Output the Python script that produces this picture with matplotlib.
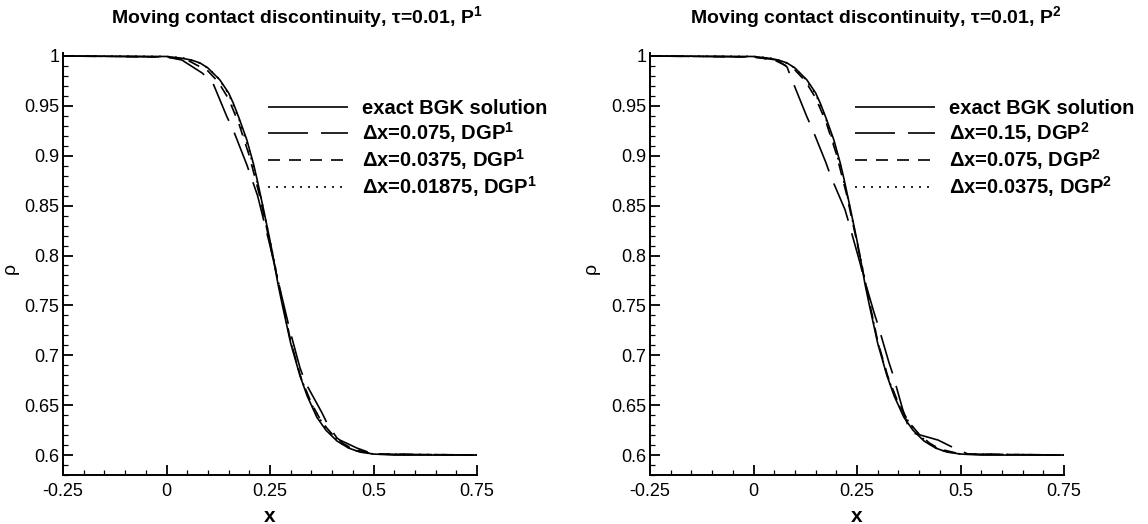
import matplotlib
matplotlib.use("Agg")
import matplotlib.pyplot as plt
from matplotlib.ticker import MultipleLocator, FuncFormatter

plt.rcParams['font.family'] = ['Liberation Sans', 'DejaVu Sans']
plt.rcParams['mathtext.fontset'] = 'custom'
plt.rcParams['mathtext.rm'] = 'Liberation Sans'
plt.rcParams['mathtext.bf'] = 'Liberation Sans:bold'

# --- data ---
# exact BGK solution (same in both panels)
exact_x = [-0.25, 0.0, 0.033, 0.06, 0.081, 0.1, 0.129, 0.15, 0.161, 0.175, 0.194,
           0.21, 0.219, 0.235, 0.25, 0.257, 0.269, 0.28, 0.3, 0.322, 0.34, 0.363,
           0.385, 0.412, 0.44, 0.467, 0.5, 0.55, 0.75]
exact_y = [1.0, 0.9995, 0.998, 0.996, 0.993, 0.988, 0.976, 0.963, 0.953, 0.938, 0.916,
           0.892, 0.876, 0.845, 0.815, 0.800, 0.772, 0.750, 0.712, 0.680, 0.659, 0.638,
           0.625, 0.614, 0.607, 0.603, 0.601, 0.600, 0.600]

# left panel, P1
p1_coarse_x = [-0.25, 0.0, 0.037, 0.086, 0.112, 0.146, 0.161, 0.194, 0.22, 0.25, 0.275,
               0.298, 0.322, 0.335, 0.376, 0.39, 0.412, 0.419, 0.46, 0.5, 0.75]
p1_coarse_y = [1.0, 0.999, 0.996, 0.983, 0.973, 0.939, 0.926, 0.891, 0.86, 0.81, 0.765,
               0.725, 0.688, 0.673, 0.642, 0.63, 0.617, 0.615, 0.607, 0.601, 0.6]
p1_mid_x = [-0.25, 0.0, 0.05, 0.1, 0.125, 0.15, 0.175, 0.2, 0.225, 0.25, 0.275, 0.3,
            0.325, 0.35, 0.375, 0.4, 0.425, 0.45, 0.5, 0.75]
p1_mid_y = [1.0, 0.999, 0.996, 0.985, 0.974, 0.957, 0.932, 0.9, 0.86, 0.812, 0.763, 0.714,
            0.677, 0.652, 0.633, 0.621, 0.612, 0.606, 0.601, 0.6]
p1_fine_x = [-0.25, 0.0, 0.04, 0.08, 0.1, 0.125, 0.15, 0.175, 0.2, 0.225, 0.25, 0.275,
             0.3, 0.325, 0.35, 0.375, 0.4, 0.425, 0.45, 0.5, 0.75]
p1_fine_y = [1.0, 0.9995, 0.998, 0.993, 0.988, 0.978, 0.962, 0.937, 0.905, 0.864, 0.815,
             0.764, 0.713, 0.677, 0.651, 0.633, 0.62, 0.611, 0.605, 0.601, 0.6]

# right panel, P2
p2_coarse_x = [-0.25, 0.0, 0.057, 0.081, 0.093, 0.129, 0.141, 0.175, 0.187, 0.221, 0.228,
               0.257, 0.265, 0.291, 0.301, 0.327, 0.335, 0.361, 0.378, 0.446, 0.48,
               0.518, 0.75]
p2_coarse_y = [1.0, 0.999, 0.996, 0.989, 0.976, 0.939, 0.928, 0.893, 0.879, 0.846, 0.836,
               0.793, 0.78, 0.743, 0.73, 0.693, 0.683, 0.645, 0.623, 0.615, 0.608,
               0.601, 0.6]
p2_mid_x = [-0.25, 0.0, 0.05, 0.1, 0.125, 0.15, 0.175, 0.2, 0.225, 0.25, 0.275, 0.3,
            0.325, 0.35, 0.375, 0.4, 0.425, 0.45, 0.5, 0.75]
p2_mid_y = [1.0, 0.999, 0.996, 0.986, 0.975, 0.958, 0.934, 0.902, 0.861, 0.813, 0.763,
            0.714, 0.678, 0.652, 0.633, 0.621, 0.612, 0.606, 0.601, 0.6]
p2_fine_x = p1_fine_x
p2_fine_y = [1.0, 0.9995, 0.998, 0.993, 0.988, 0.977, 0.962, 0.937, 0.904, 0.863, 0.814,
             0.764, 0.713, 0.677, 0.651, 0.633, 0.62, 0.611, 0.605, 0.601, 0.6]

titles = [r'Moving contact discontinuity, τ=0.01, P$^{\mathbf{1}}$',
          r'Moving contact discontinuity, τ=0.01, P$^{\mathbf{2}}$']
labels_left = ['exact BGK solution', r'Δx=0.075, DGP$^{\mathbf{1}}$',
               r'Δx=0.0375, DGP$^{\mathbf{1}}$', r'Δx=0.01875, DGP$^{\mathbf{1}}$']
labels_right = ['exact BGK solution', r'Δx=0.15, DGP$^{\mathbf{2}}$',
                r'Δx=0.075, DGP$^{\mathbf{2}}$', r'Δx=0.0375, DGP$^{\mathbf{2}}$']

LW = 1.2
STYLES = [(0, ()), (0, (24, 7.8)), (0, (7.2, 5.4)), (0, (1.2, 3.6))]

fig = plt.figure(figsize=(11.48, 5.24), dpi=100)
ax_l = fig.add_axes([63 / 1148, 1 - 475 / 524, 414 / 1148, 422 / 524])
ax_r = fig.add_axes([650 / 1148, 1 - 475 / 524, 414 / 1148, 422 / 524])

panels = [
    (ax_l, [(exact_x, exact_y), (p1_coarse_x, p1_coarse_y), (p1_mid_x, p1_mid_y),
            (p1_fine_x, p1_fine_y)], labels_left, -0.106),
    (ax_r, [(exact_x, exact_y), (p2_coarse_x, p2_coarse_y), (p2_mid_x, p2_mid_y),
            (p2_fine_x, p2_fine_y)], labels_right, -0.121),
]

for ax, series, labels, ylab_x in panels:
    for (xs, ys), ls, lab in zip(series, STYLES, labels):
        ax.plot(xs, ys, color='black', lw=LW, linestyle=ls, label=lab)

    ax.set_xlim(-0.25, 0.75)
    ax.set_ylim(0.58, 1.003)
    ax.spines['top'].set_visible(False)
    ax.spines['right'].set_visible(False)
    ax.spines['left'].set_linewidth(1.4)
    ax.spines['bottom'].set_linewidth(1.4)

    ax.xaxis.set_major_locator(MultipleLocator(0.25))
    ax.xaxis.set_minor_locator(MultipleLocator(0.05))
    ax.yaxis.set_major_locator(MultipleLocator(0.05))
    ax.yaxis.set_minor_locator(MultipleLocator(0.01))
    fmt = FuncFormatter(lambda v, p: '%g' % round(v, 4))
    ax.xaxis.set_major_formatter(fmt)
    ax.yaxis.set_major_formatter(fmt)
    ax.tick_params(which='major', direction='in', length=7.2, width=1.3, labelsize=13)
    ax.tick_params(which='minor', direction='in', length=3.6, width=0.9)
    ax.tick_params(axis='x', which='major', pad=6)
    ax.tick_params(axis='y', which='major', pad=2.5)

    ax.set_xlabel('x', fontsize=15, fontweight='bold')
    ax.xaxis.set_label_coords(0.5, -0.076)
    ax.set_ylabel('ρ', fontsize=14)
    ax.yaxis.set_label_coords(ylab_x, 0.49)

    ax.legend(loc='upper left', bbox_to_anchor=(0.495, 0.89), frameon=False,
              prop={'weight': 'bold', 'size': 14.5}, handlelength=4.0,
              handletextpad=0.65, labelspacing=0.1, borderpad=0, borderaxespad=0)

fig.text(297 / 1148, 1 - 18 / 524, titles[0], ha='center', va='center',
         fontsize=14, fontweight='bold')
fig.text(876 / 1148, 1 - 18 / 524, titles[1], ha='center', va='center',
         fontsize=14, fontweight='bold')

fig.savefig('out.png', dpi=100)
